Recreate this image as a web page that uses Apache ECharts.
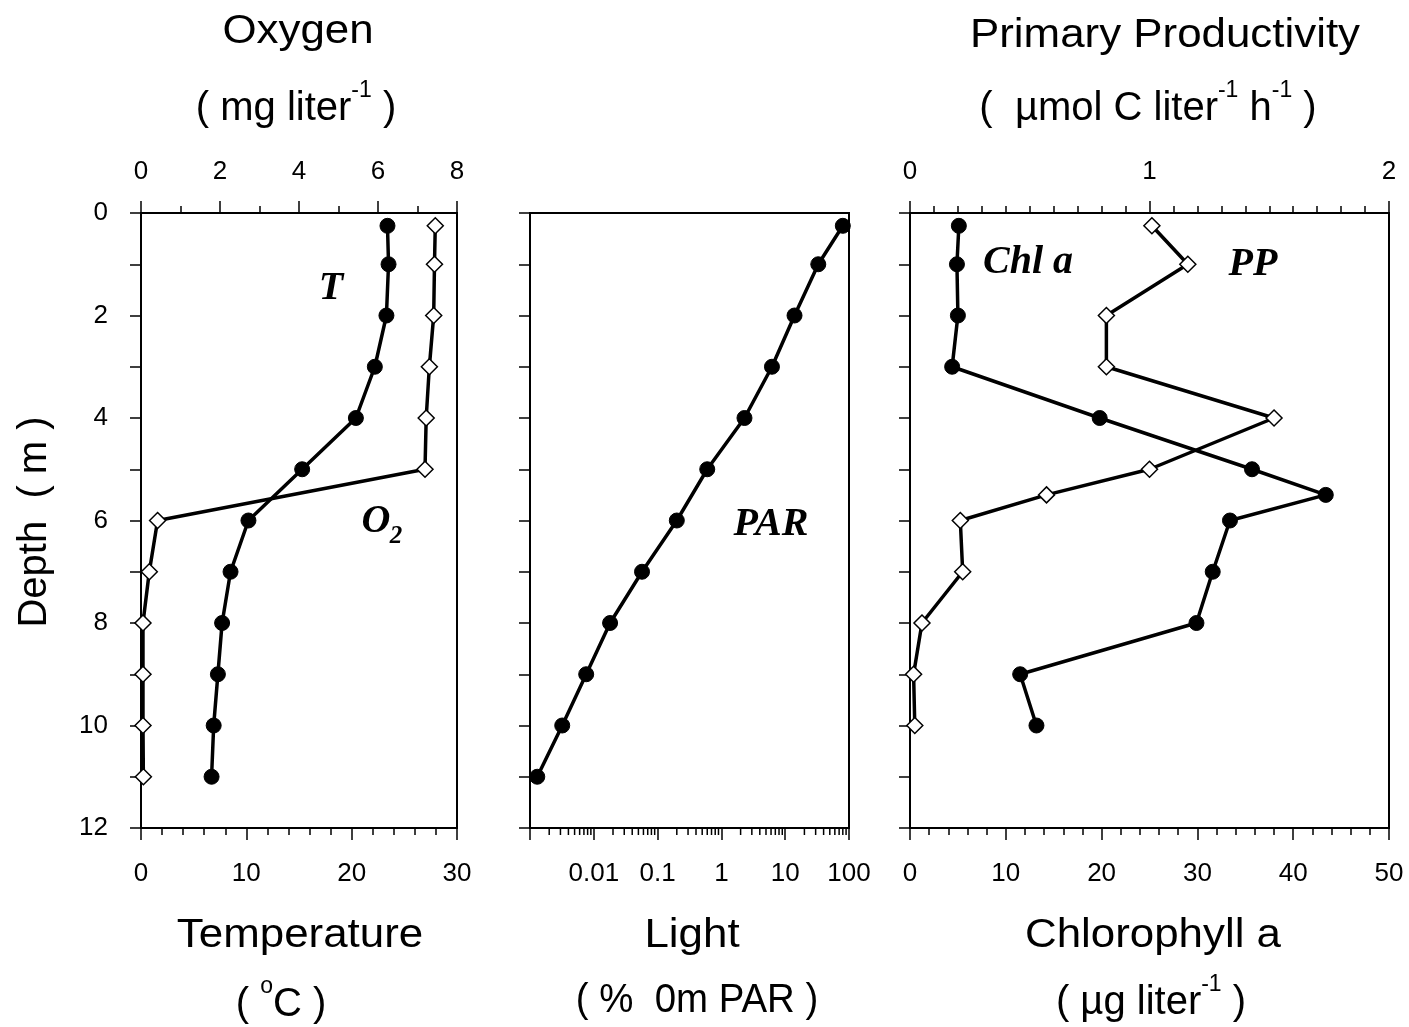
<!DOCTYPE html>
<html>
<head>
<meta charset="utf-8">
<script src="https://cdn.jsdelivr.net/npm/echarts@6/dist/echarts.min.js"></script>
<style>
html,body{margin:0;padding:0;background:#fff;}
#chart{width:1409px;height:1027px;}
</style>
</head>
<body>
<div id="chart"></div>
<script>
// ---- Data ----
const depthProfile = [0.25, 1, 2, 3, 4, 5, 6, 7, 8, 9, 10, 11];
const temperature = [23.4, 23.5, 23.3, 22.2, 20.4, 15.3, 10.2, 8.5, 7.7, 7.3, 6.9, 6.7];
const oxygen = [7.45, 7.43, 7.41, 7.3, 7.22, 7.19, 0.42, 0.21, 0.05, 0.05, 0.05, 0.06];
const parPercent = [80, 33, 14, 6.2, 2.3, 0.6, 0.2, 0.057, 0.018, 0.0076, 0.0032, 0.0013];
const depthBio = [0.25, 1, 2, 3, 4, 5, 5.5, 6, 7, 8, 9, 10];
const chlorophyll = [5.1, 4.9, 5.0, 4.4, 19.8, 35.7, 43.4, 33.4, 31.6, 29.9, 11.5, 13.2];
const productivity = [1.01, 1.16, 0.82, 0.82, 1.52, 1.0, 0.57, 0.21, 0.22, 0.05, 0.015, 0.02];
// log-axis minor tick positions (2..9 within each decade)
const logDecades = [0.001, 0.01, 0.1, 1, 10];
const logMinorTicks = [];
logDecades.forEach(d => { for (let k = 2; k <= 9; k++) logMinorTicks.push(+(d * k).toPrecision(2)); });

const zip = (xs, ys) => xs.map((x, i) => [x, ys[i]]);

const SANS = "'Liberation Sans', Arial, sans-serif";
const SERIF = "'Liberation Serif', 'Times New Roman', serif";
const BLACK = '#000';

const axisLine = { show: true, onZero: false, lineStyle: { color: BLACK, width: 2 } };
const axisTick = { show: true, inside: false, length: 12, lineStyle: { color: BLACK, width: 1.5 } };
const minorTick = n => ({ show: true, splitNumber: n, length: 7, lineStyle: { color: BLACK, width: 1.5 } });
const labelStyle = { color: BLACK, fontFamily: SANS, fontSize: 26, margin: 33 };

function depthAxis(gridIndex, showLabels) {
  return {
    type: 'value', gridIndex, inverse: true, min: 0, max: 12, interval: 1,
    axisLine, axisTick: Object.assign({}, axisTick, { length: 11 }),
    splitLine: { show: false },
    axisLabel: Object.assign({}, labelStyle, {
      show: showLabels, margin: 33,
      formatter: v => (v % 2 === 0 ? String(v) : '')
    })
  };
}

const gridBase = { top: 213, height: 615, show: true, borderColor: BLACK, borderWidth: 2, backgroundColor: 'transparent' };

const circleSeries = (name, xi, yi, data) => ({
  name, type: 'line', xAxisIndex: xi, yAxisIndex: yi, data,
  symbol: 'circle', symbolSize: 15,
  lineStyle: { color: BLACK, width: 3.5 },
  itemStyle: { color: BLACK, borderColor: BLACK },
  z: 3
});
const diamondSeries = (name, xi, yi, data) => ({
  name, type: 'line', xAxisIndex: xi, yAxisIndex: yi, data,
  symbol: 'diamond', symbolSize: [16, 16],
  lineStyle: { color: BLACK, width: 3.5 },
  itemStyle: { color: '#fff', borderColor: BLACK, borderWidth: 1.5 },
  z: 4
});

const TITLE_SIZE = 41;
const SUB_SIZE = 40;
const titleFont = `${TITLE_SIZE}px ${SANS}`;
const subFont = `${SUB_SIZE}px ${SANS}`;
const labFont = `bold italic 40px ${SERIF}`;
const richTitle = {
  m: { fontFamily: SANS, fontSize: SUB_SIZE, fill: BLACK, padding: [10, 0, 0, 0], verticalAlign: 'bottom' },
  s: { fontFamily: SANS, fontSize: 23, fill: BLACK, verticalAlign: 'top' }
};

function textEl(x, y, text, font, opts) {
  opts = opts || {};
  return Object.assign({
    type: 'text', x, y,
    style: Object.assign({ text, font, fill: BLACK, align: 'center', verticalAlign: 'middle' }, opts.style || {})
  }, opts.el || {});
}
const stretch = { el: { scaleX: 1.07 } };
const subRich = { style: { rich: richTitle } };

const option = {
  animation: false,
  backgroundColor: '#fff',
  grid: [
    Object.assign({ left: 141, width: 316 }, gridBase),
    Object.assign({ left: 530, width: 319 }, gridBase),
    Object.assign({ left: 910, width: 479 }, gridBase)
  ],
  xAxis: [
    { // 0: oxygen, top of left panel
      type: 'value', gridIndex: 0, position: 'top', min: 0, max: 8, interval: 2,
      axisLine, axisTick, minorTick: minorTick(2), splitLine: { show: false }, minorSplitLine: { show: false },
      axisLabel: Object.assign({}, labelStyle, { margin: 28 })
    },
    { // 1: temperature, bottom of left panel
      type: 'value', gridIndex: 0, position: 'bottom', min: 0, max: 30, interval: 10,
      axisLine, axisTick, minorTick: minorTick(5), splitLine: { show: false }, minorSplitLine: { show: false },
      axisLabel: labelStyle
    },
    { // 2: light, log axis
      type: 'log', logBase: 10, gridIndex: 1, position: 'bottom', min: 0.001, max: 100,
      axisLine, axisTick, splitLine: { show: false },
      axisLabel: Object.assign({}, labelStyle, {
        formatter: v => (v < 0.005 ? '' : String(Number((+v).toPrecision(3))))
      })
    },
    { // 3: primary productivity, top of right panel
      type: 'value', gridIndex: 2, position: 'top', min: 0, max: 2, interval: 1,
      axisLine, axisTick, minorTick: minorTick(10), splitLine: { show: false }, minorSplitLine: { show: false },
      axisLabel: Object.assign({}, labelStyle, { margin: 28 })
    },
    { // 4: chlorophyll, bottom of right panel
      type: 'value', gridIndex: 2, position: 'bottom', min: 0, max: 50, interval: 10,
      axisLine, axisTick, minorTick: minorTick(5), splitLine: { show: false }, minorSplitLine: { show: false },
      axisLabel: labelStyle
    }
  ],
  yAxis: [depthAxis(0, true), depthAxis(1, false), depthAxis(2, false)],
  series: [
    circleSeries('T', 1, 0, zip(temperature, depthProfile)),
    diamondSeries('O2', 0, 0, zip(oxygen, depthProfile)),
    circleSeries('PAR', 2, 1, zip(parPercent, depthProfile)),
    circleSeries('Chl a', 4, 2, zip(chlorophyll, depthBio)),
    diamondSeries('PP', 3, 2, zip(productivity, depthBio)),
    {
      name: 'logMinor', type: 'custom', xAxisIndex: 2, yAxisIndex: 1, clip: false, silent: true,
      data: logMinorTicks.map(v => [v, 12]),
      renderItem: (params, api) => {
        const p = api.coord([api.value(0), api.value(1)]);
        return { type: 'line', shape: { x1: p[0], y1: p[1], x2: p[0], y2: p[1] + 7 },
                 style: { stroke: BLACK, lineWidth: 1.5 } };
      }
    }
  ],
  graphic: [
    // top titles
    textEl(298, 32, 'Oxygen', titleFont, stretch),
    textEl(296, 104, '{m|( mg liter}{s|-1}{m| )}', subFont, subRich),
    textEl(1165, 36, 'Primary Productivity', titleFont, stretch),
    textEl(1148, 104, '{m|(  µmol C liter}{s|-1}{m| h}{s|-1}{m| )}', subFont, subRich),
    // y-axis title
    textEl(35, 522, 'Depth  ( m )', `40px ${SANS}`, { el: { rotation: Math.PI / 2 } }),
    // bottom titles
    textEl(300, 936, 'Temperature', titleFont, stretch),
    textEl(281, 1000, '{m|( }{s|o}{m|C )}', subFont, subRich),
    textEl(692, 936, 'Light', titleFont, stretch),
    textEl(697, 1001, '( %  0m PAR )', subFont, { el: { scaleX: 0.96 } }),
    textEl(1153, 936, 'Chlorophyll a', titleFont, stretch),
    textEl(1151, 998, '{m|( µg liter}{s|-1}{m| )}', subFont, subRich),
    // series labels
    textEl(331, 289, 'T', labFont),
    textEl(376, 522, 'O', labFont),
    textEl(396, 537, '2', `bold italic 25px ${SERIF}`),
    textEl(771, 525, 'PAR', labFont),
    textEl(1028, 263, 'Chl a', labFont),
    textEl(1253, 265, 'PP', labFont)
  ]
};

const chart = echarts.init(document.getElementById('chart'), null, { renderer: 'canvas' });
chart.setOption(option);
</script>
</body>
</html>
